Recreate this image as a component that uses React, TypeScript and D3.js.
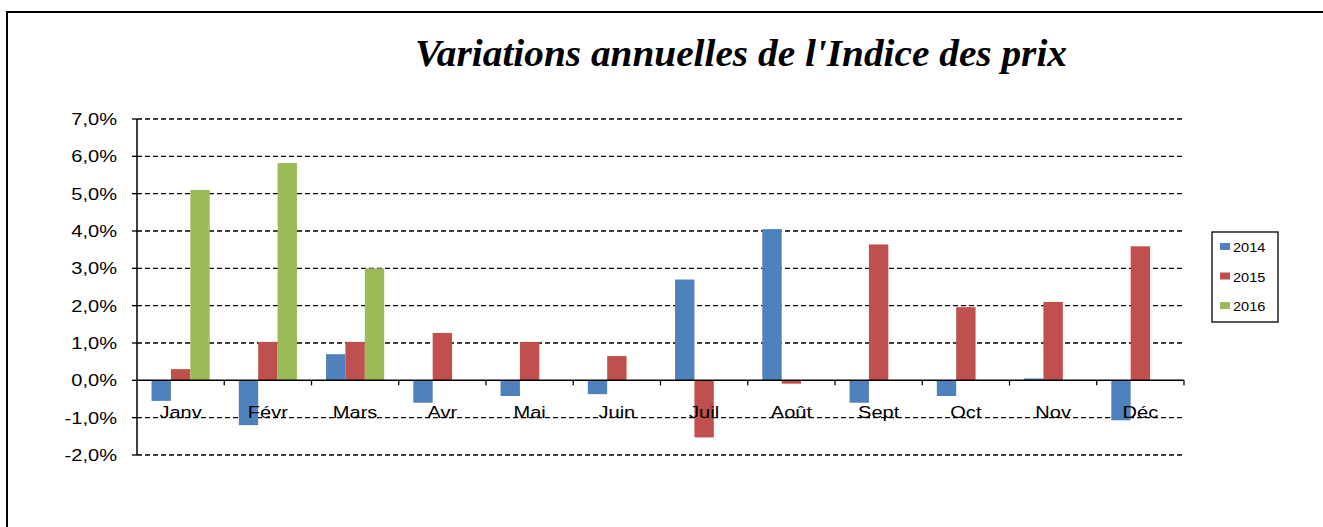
import React, { useEffect, useRef } from "react";
import * as d3 from "d3";

const months = ["Janv", "Févr", "Mars", "Avr", "Mai", "Juin", "Juil", "Août", "Sept", "Oct", "Nov", "Déc"];
const years = ["2014", "2015", "2016"];
const v2014 = [-0.55, -1.2, 0.7, -0.6, -0.42, -0.37, 2.7, 4.05, -0.6, -0.42, 0.05, -1.07];
const v2015 = [0.3, 1.03, 1.03, 1.27, 1.03, 0.65, -1.53, -0.09, 3.64, 1.96, 2.1, 3.59];
const v2016 = [5.1, 5.82, 3.0, null, null, null, null, null, null, null, null, null];
const yTicks = [-2, -1, 0, 1, 2, 3, 4, 5, 6, 7];
const colors = ["#4F81BD", "#C0504D", "#9BBB59"];

export default function App() {
  const ref = useRef<SVGSVGElement>(null);

  useEffect(() => {
    const svg = d3.select(ref.current);
    svg.selectAll("*").remove();

    const left = 137, right = 1184, top = 119, bottom = 455;
    const series = [v2014, v2015, v2016];

    // outer frame: only top and left edges are on the page
    svg.append("path")
      .attr("d", "M7,560 L7,12 L1340,12")
      .attr("fill", "none").attr("stroke", "#000").attr("stroke-width", 2);

    svg.append("text")
      .text("Variations annuelles de l'Indice des prix")
      .attr("x", 415).attr("y", 66)
      .attr("textLength", 652)
      .attr("lengthAdjust", "spacingAndGlyphs")
      .attr("font-family", "Liberation Serif, serif")
      .attr("font-weight", "bold")
      .attr("font-style", "italic")
      .attr("font-size", 37);

    const x = d3.scaleBand().domain(months).range([left, right]);
    const xs = d3.scaleBand().domain(years).range([0, x.bandwidth()]).paddingOuter(0.75);
    const y = d3.scaleLinear().domain([-2, 7]).range([bottom, top]);
    const fmt = (d: number) => d.toFixed(1).replace(".", ",") + "%";

    const g = svg.append("g");

    // dashed grid
    g.selectAll(".grid").data(yTicks.filter(t => t !== 0)).join("line")
      .attr("x1", left).attr("x2", right)
      .attr("y1", d => y(d)).attr("y2", d => y(d))
      .attr("stroke", "#000").attr("stroke-width", 1.3)
      .attr("stroke-dasharray", "5,3");

    // bars
    series.forEach((vals, si) => {
      g.selectAll(".bar" + si).data(vals.map((v, i) => ({ v, m: months[i] })).filter(d => d.v !== null)).join("rect")
        .attr("x", d => (x(d.m) as number) + (xs(years[si]) as number))
        .attr("width", xs.bandwidth())
        .attr("y", d => y(Math.max(0, d.v as number)))
        .attr("height", d => Math.abs(y(d.v as number) - y(0)))
        .attr("fill", colors[si]);
    });

    // y axis
    g.append("line").attr("x1", left).attr("x2", left).attr("y1", top).attr("y2", bottom)
      .attr("stroke", "#000").attr("stroke-width", 1.5);
    g.selectAll(".ytick").data(yTicks).join("line")
      .attr("x1", left - 5).attr("x2", left)
      .attr("y1", d => y(d)).attr("y2", d => y(d))
      .attr("stroke", "#000").attr("stroke-width", 1.3);
    g.selectAll(".ylab").data(yTicks).join("text")
      .text(d => fmt(d))
      .attr("transform", d => `translate(117,${y(d) + 6}) scale(1.18,1)`)
      .attr("text-anchor", "end")
      .attr("font-family", "Liberation Sans, Arial, sans-serif")
      .attr("font-size", 17);

    // zero axis with category ticks
    g.append("line").attr("x1", left).attr("x2", right).attr("y1", y(0)).attr("y2", y(0))
      .attr("stroke", "#000").attr("stroke-width", 1.5);
    g.selectAll(".xtick").data(months).join("line")
      .attr("x1", d => (x(d) as number) + x.bandwidth()).attr("x2", d => (x(d) as number) + x.bandwidth())
      .attr("y1", y(0)).attr("y2", y(0) + 5)
      .attr("stroke", "#000").attr("stroke-width", 1.3);
    g.selectAll(".xlab").data(months).join("text")
      .text(d => d)
      .attr("transform", d => `translate(${(x(d) as number) + x.bandwidth() / 2},418) scale(1.18,1)`)
      .attr("text-anchor", "middle")
      .attr("font-family", "Liberation Sans, Arial, sans-serif")
      .attr("font-size", 17);

    // legend
    const lg = svg.append("g");
    lg.append("rect").attr("x", 1212).attr("y", 232).attr("width", 66).attr("height", 90)
      .attr("fill", "white").attr("stroke", "#000").attr("stroke-width", 1.3);
    years.forEach((yr, i) => {
      const cy = 247 + i * 29.5;
      lg.append("rect").attr("x", 1220).attr("y", cy - 4).attr("width", 10).attr("height", 7).attr("fill", colors[i]);
      lg.append("text").text(yr)
        .attr("transform", `translate(1233,${cy + 5}) scale(1.12,1)`)
        .attr("font-family", "Liberation Sans, Arial, sans-serif")
        .attr("font-size", 13);
    });
  }, []);

  return (
    <svg ref={ref} width={1323} height={527}
      style={{ position: "absolute", left: 0, top: 0, display: "block", background: "white" }} />
  );
}
